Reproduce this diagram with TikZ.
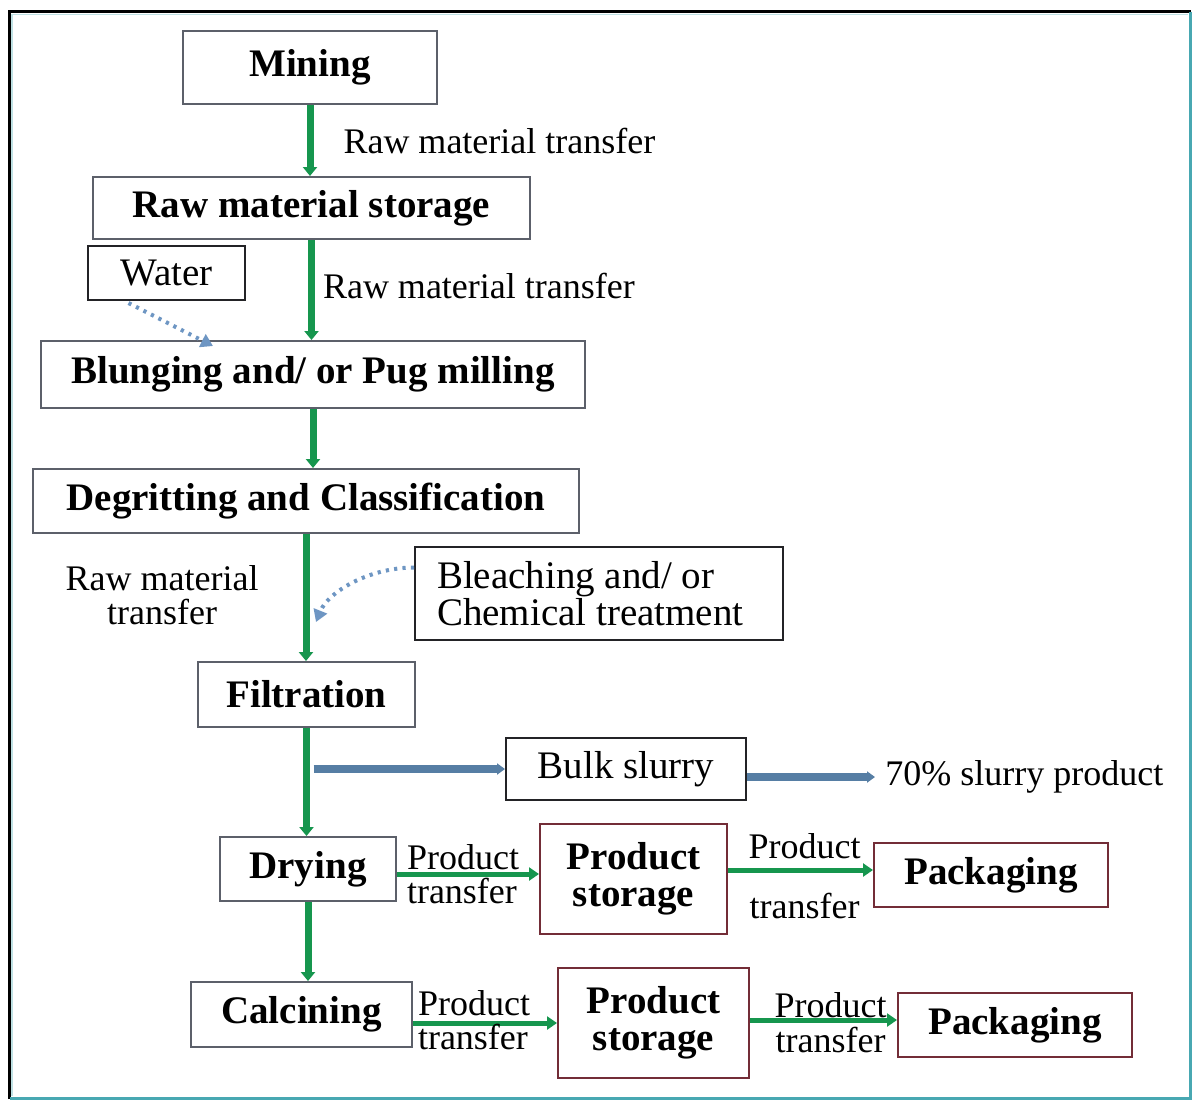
\documentclass[tikz,border=0pt]{standalone}
\usepackage{fontspec}
\setmainfont{Liberation Serif}
\usetikzlibrary{arrows.meta,calc}

\definecolor{flowgreen}{RGB}{22,150,78}
\definecolor{slurryblue}{RGB}{86,126,164}
\definecolor{dotblue}{RGB}{110,150,195}
\definecolor{boxgray}{RGB}{92,96,106}
\definecolor{boxdark}{RGB}{35,35,38}
\definecolor{boxred}{RGB}{115,45,55}
\definecolor{frameteal}{RGB}{72,168,178}

\begin{document}
\begin{tikzpicture}[x=0.5pt,y=-0.5pt,
  boldtxt/.style={font=\fontsize{19.5}{18.5}\selectfont\bfseries},
  plaintxt/.style={font=\fontsize{18}{17}\selectfont},
  largetxt/.style={font=\fontsize{19.5}{18.5}\selectfont},
  sz/.style 2 args={minimum width=#1*0.5pt, minimum height=#2*0.5pt},
  stagebox/.style={draw=boxgray, line width=1pt, inner sep=0pt, boldtxt, align=center},
  inputbox/.style={draw=boxdark, line width=1pt, inner sep=0pt, largetxt},
  prodbox/.style={draw=boxred, line width=1pt, inner sep=0pt, boldtxt, align=center},
  mainflow/.style={draw=flowgreen, line width=3.5pt, -{Triangle[length=4.5pt,width=7pt]}},
  prodflow/.style={draw=flowgreen, line width=2.5pt, -{Triangle[length=5pt,width=6.5pt]}},
  slurryflow/.style={draw=slurryblue, line width=4pt, -{Triangle[length=4pt,width=5.5pt]}},
  addflow/.style={draw=dotblue, line width=2pt, dash pattern=on 1.6pt off 2.6pt, -{Triangle[length=6pt,width=7pt]}},
  flowlabel/.style={plaintxt, inner sep=0pt}
]
\useasboundingbox (0,0) rectangle (1192,1100);

% outer frame
\draw[frameteal!35, line width=0.75pt] (12,1096) -- (12,14.5) -- (1188,14.5);
\draw[black, line width=1.5pt] (9.5,1099) -- (9.5,11.5) -- (1191,11.5);
\draw[frameteal, line width=1.5pt] (1190,11.5) -- (1190,1098) -- (9.5,1098);

% process stages
\node[stagebox, sz={254}{73}] (mining) at (310,67.5) {Mining};
\node[stagebox, sz={437}{62}] (rawstore) at (311.5,208) {Raw material storage};
\node[inputbox, sz={157}{54}] (water) at (166.5,273) {Water};
\node[stagebox, sz={544}{67}] (blunging) at (313,374.5) {Blunging and/ or Pug milling};
\node[stagebox, sz={546}{64}] (degrit) at (306,501) {Degritting and Classification};
\node[inputbox, sz={368}{93}, align=flush left, text width=162pt] (bleach) at (599,593.5) {Bleaching and/ or\\Chemical treatment};
\node[stagebox, sz={217}{65}] (filter) at (306.5,694.5) {Filtration};
\node[inputbox, sz={240}{62}] (bulk) at (626,769) {Bulk slurry};
\node[plaintxt, anchor=west, inner sep=0pt] (slurryprod) at (885,777) {70\% slurry product};
\node[stagebox, sz={176}{64}] (drying) at (308,869) {Drying};
\node[prodbox, sz={187}{110}] (store1) at (633.5,879) {Product\\storage};
\node[prodbox, sz={234}{64}] (pack1) at (991,875) {Packaging};
\node[stagebox, sz={221}{65}] (calcine) at (301.5,1014.5) {Calcining};
\node[prodbox, sz={191}{110}] (store2) at (653.5,1023) {Product\\storage};
\node[prodbox, sz={234}{64}] (pack2) at (1015,1025) {Packaging};

% main trunk
\draw[mainflow] (mining.south) -- (mining.south |- rawstore.north)
  node[flowlabel, midway, right=15pt] {Raw material transfer};
\draw[mainflow] (rawstore.south) -- (rawstore.south |- blunging.north)
  node[flowlabel, midway, right=4pt, yshift=2pt] {Raw material transfer};
\draw[mainflow] (blunging.south) -- (blunging.south |- degrit.north);
\draw[mainflow] (degrit.south) -- (degrit.south |- filter.north)
  node[flowlabel, midway, left=22pt, yshift=1pt, align=center] {Raw material\\transfer};
\draw[mainflow] (filter.south) -- (filter.south |- drying.north);
\draw[mainflow] (drying.south) -- (drying.south |- calcine.north);

% additions
\draw[addflow] ([xshift=-19pt, yshift=-1pt]water.south) -- ([xshift=-50pt, yshift=-3pt]blunging.north);
\coordinate (bleachin) at (316,622);
\draw[addflow] ([yshift=13pt]bleach.west) .. controls +(-45,0) and +(12,-30) .. (bleachin);

% slurry branch
\coordinate (tap) at (filter.south |- bulk.west);
\draw[slurryflow] ([xshift=3.5pt]tap) -- (bulk.west);
\draw[slurryflow] ([yshift=-4pt]bulk.east) -- ([xshift=-5pt]slurryprod.west);

% dry product line
\draw[prodflow] ([yshift=-2.5pt]drying.east) -- ([yshift=-2.5pt]drying.east -| store1.west)
  node[flowlabel, midway, align=left, xshift=-2.5pt] {Product\\transfer};
\draw[prodflow] ([yshift=4.5pt]store1.east) -- ([yshift=4.5pt]store1.east -| pack1.west)
  node[flowlabel, midway, xshift=2pt, yshift=12pt] {Product}
  node[flowlabel, midway, xshift=2pt, yshift=-18pt] {transfer};

% calcined product line
\draw[prodflow] ([yshift=-4.25pt]calcine.east) -- ([yshift=-4.25pt]calcine.east -| store2.west)
  node[flowlabel, midway, align=left, xshift=-5.5pt, yshift=1.25pt] {Product\\transfer};
\draw[prodflow] ([yshift=1.5pt]store2.east) -- ([yshift=1.5pt]store2.east -| pack2.west)
  node[flowlabel, midway, xshift=3.5pt, yshift=7.5pt] {Product}
  node[flowlabel, midway, xshift=3.5pt, yshift=-10pt] {transfer};
\end{tikzpicture}
\end{document}
